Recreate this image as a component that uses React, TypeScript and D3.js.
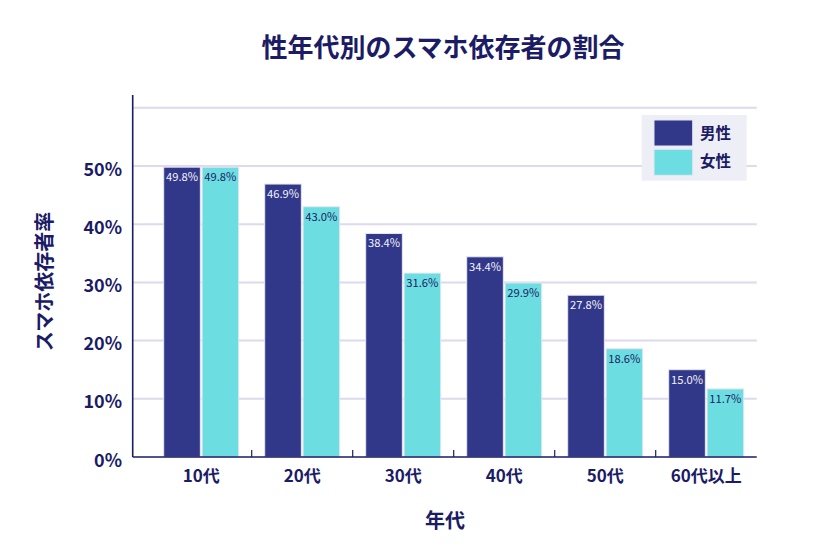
import React from "react";
import * as d3 from "d3";

const ageGroups = ["10代", "20代", "30代", "40代", "50代", "60代以上"];
const maleRates = [49.8, 46.9, 38.4, 34.4, 27.8, 15.0];
const femaleRates = [49.8, 43.0, 31.6, 29.9, 18.6, 11.7];
const seriesNames = ["男性", "女性"];
const yTicks = [0, 10, 20, 30, 40, 50];

const W = 840;
const H = 560;
const NAVY = "#1b1b66";
const MALE = "#313789";
const FEMALE = "#6cdde0";
const GRID = "#dcdaec";
const FONT = "'Noto Sans CJK JP', 'Noto Sans', sans-serif";

const axisX = 132.7;
const plotLeft = 150.7;
const plotRight = 756.7;
const baseY = 457;
const topY = 95;

export default function App() {
  const y = d3.scaleLinear().domain([0, 62.2]).range([baseY, topY]);
  const x0 = d3.scaleBand<string>().domain(ageGroups).range([plotLeft, plotRight]).padding(0);
  const x1 = d3
    .scaleBand<string>()
    .domain(seriesNames)
    .range([13, x0.bandwidth() - 13])
    .paddingInner(0.045);

  const rows = ageGroups.map((g, i) => ({
    group: g,
    values: [
      { key: seriesNames[0], v: maleRates[i], color: MALE, text: "#f4f4fb" },
      { key: seriesNames[1], v: femaleRates[i], color: FEMALE, text: NAVY },
    ],
  }));

  const gridVals = [...yTicks, 60];

  return (
    <svg width={W} height={H} style={{ position: "absolute", left: 0, top: 0, background: "#fff" }}>
      <text
        x={443}
        y={57}
        textAnchor="middle"
        fontFamily={FONT}
        fontWeight={700}
        fontSize={26}
        fill={NAVY}
      >
        性年代別のスマホ依存者の割合
      </text>

      {/* horizontal gridlines */}
      {gridVals.slice(1).map((t) => (
        <line key={t} x1={axisX} x2={plotRight} y1={y(t)} y2={y(t)} stroke={GRID} strokeWidth={2} />
      ))}

      {/* bars */}
      {rows.map((r) => (
        <g key={r.group} transform={`translate(${x0(r.group)},0)`}>
          {r.values.map((d) => (
            <g key={d.key}>
              <rect
                x={x1(d.key)}
                y={y(d.v)}
                width={x1.bandwidth()}
                height={baseY - y(d.v)}
                fill={d.color}
                stroke="#e6e6f2"
                strokeWidth={1}
              />
              <text
                x={(x1(d.key) as number) + x1.bandwidth() / 2}
                y={y(d.v) + 13.8}
                textAnchor="middle"
                fontFamily={FONT}
                fontSize={11.2}
                fill={d.text}
              >
                {d.v.toFixed(1)}%
              </text>
            </g>
          ))}
        </g>
      ))}

      {/* axes */}
      <line x1={axisX} x2={axisX} y1={topY} y2={baseY} stroke={NAVY} strokeWidth={1.6} />
      <line x1={axisX} x2={plotRight} y1={baseY} y2={baseY} stroke={NAVY} strokeWidth={1.6} />
      {ageGroups.slice(1).map((g) => (
        <line
          key={g}
          x1={x0(g)}
          x2={x0(g)}
          y1={baseY}
          y2={baseY - 7}
          stroke={NAVY}
          strokeWidth={1.2}
        />
      ))}

      {/* y tick labels */}
      {yTicks.map((t) => (
        <text
          key={t}
          x={122}
          y={y(t) + 9.5}
          textAnchor="end"
          fontFamily={FONT}
          fontWeight={700}
          fontSize={18}
          fill={NAVY}
        >
          {t}%
        </text>
      ))}

      {/* x tick labels */}
      {ageGroups.map((g) => (
        <text
          key={g}
          x={(x0(g) as number) + x0.bandwidth() / 2}
          y={482}
          textAnchor="middle"
          fontFamily={FONT}
          fontWeight={700}
          fontSize={17}
          fill={NAVY}
        >
          {g}
        </text>
      ))}

      {/* axis titles */}
      <text
        x={445}
        y={528}
        textAnchor="middle"
        fontFamily={FONT}
        fontWeight={700}
        fontSize={20}
        fill={NAVY}
      >
        年代
      </text>
      <text
        transform={`translate(52,${281.5}) rotate(-90)`}
        textAnchor="middle"
        fontFamily={FONT}
        fontWeight={700}
        fontSize={20}
        fill={NAVY}
      >
        スマホ依存者率
      </text>

      {/* legend */}
      <g>
        <rect x={641.7} y={115} width={105} height={65.7} fill="#eeeef6" />
        {seriesNames.map((s, i) => (
          <g key={s}>
            <rect
              x={654}
              y={120 + i * 29.3}
              width={38.7}
              height={26}
              fill={i === 0 ? MALE : FEMALE}
              stroke="#e6e6f2"
              strokeWidth={1}
            />
            <text
              x={700}
              y={133.3 + i * 28.4 + 5.5}
              fontFamily={FONT}
              fontWeight={700}
              fontSize={15.5}
              fill={NAVY}
            >
              {s}
            </text>
          </g>
        ))}
      </g>
    </svg>
  );
}
